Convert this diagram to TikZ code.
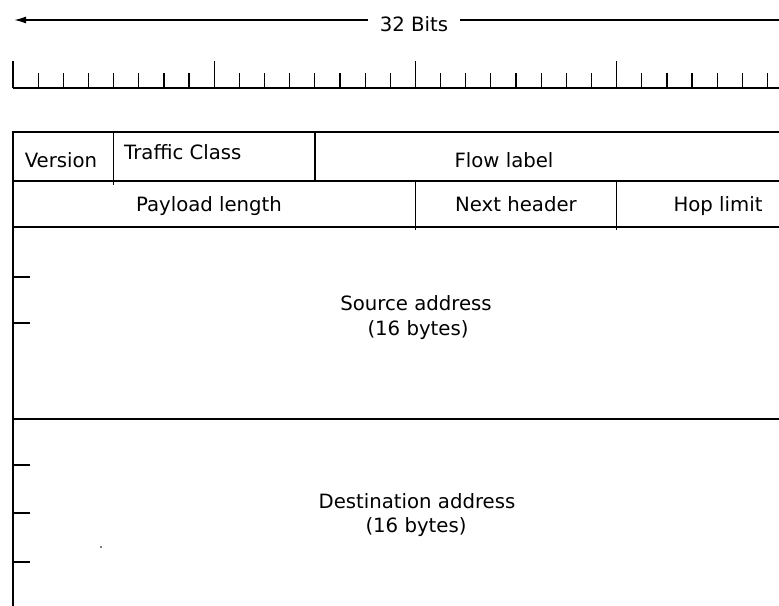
\documentclass[tikz,border=0pt]{standalone}
\usepackage{fontspec}
\setmainfont{DejaVu Sans}
\usetikzlibrary{arrows.meta}
\tikzset{
  fieldtxt/.style={anchor=base,inner sep=0pt,font=\fontsize{19.7}{24}\selectfont},
  gridline/.style={line width=1.5pt},
  tickline/.style={line width=1.2pt},
  bitArrow/.style={-{Latex[length=12pt,width=7pt]},line width=1.6pt}
}
\newcommand{\bw}{25.15}

\begin{document}
\begin{tikzpicture}[x=1pt,y=-1pt]
  \useasboundingbox (0,0) rectangle (779,605);
  \clip (0,0) rectangle (779,605);
  % word width
  \node[fieldtxt,inner xsep=12pt] (bits) at (414,31.5) {32 Bits};
  \coordinate (larr) at (14,20);
  \coordinate (rarr) at (830,20);
  \draw[bitArrow] (bits.west |- larr) -- (larr);
  \draw[gridline] (bits.east |- rarr) -- (rarr);
  % bit ruler
  \draw[gridline] (13,88) -- (830,88);
  \foreach \i in {0,...,32}
    \draw[tickline] ({13+\i*\bw},88) -- ++(0,-15);
  \foreach \i in {0,8,16,24,32}
    \draw[tickline] ({13+\i*\bw},88) -- ++(0,-27);
  % header grid
  \draw[gridline] (830,132) -- (13,132) -- (13,620);
  \draw[gridline] (13,181) -- (830,181) (13,227) -- (830,227) (13,419) -- (830,419);
  \draw[gridline] ({13+4*\bw},132) -- ({13+4*\bw},185)
                  ({13+12*\bw},132) -- ({13+12*\bw},181)
                  ({13+16*\bw},181) -- ({13+16*\bw},230)
                  ({13+24*\bw},181) -- ({13+24*\bw},230);
  \foreach \y in {277,323,465,513,562}
    \draw[gridline] (13,\y) -- (30,\y);
  \fill (101,547) circle (0.9pt);
  % field names
  \node[fieldtxt] (version) at (61,167.5) {Version};
  \node[fieldtxt,anchor=base west] (tclass) at (124,159) {Traffic Class};
  \node[fieldtxt] (flow) at (504,167) {Flow label};
  \node[fieldtxt] (payload) at (209,211) {Payload length};
  \node[fieldtxt] (nexthdr) at (516,211) {Next header};
  \node[fieldtxt] (hoplim) at (718,211) {Hop limit};
  \node[fieldtxt] (srcaddr) at (416,310) {Source address};
  \node[fieldtxt] (srclen) at (418,335) {(16 bytes)};
  \node[fieldtxt] (dstaddr) at (417,508) {Destination address};
  \node[fieldtxt] (dstlen) at (416,532) {(16 bytes)};
\end{tikzpicture}
\end{document}
